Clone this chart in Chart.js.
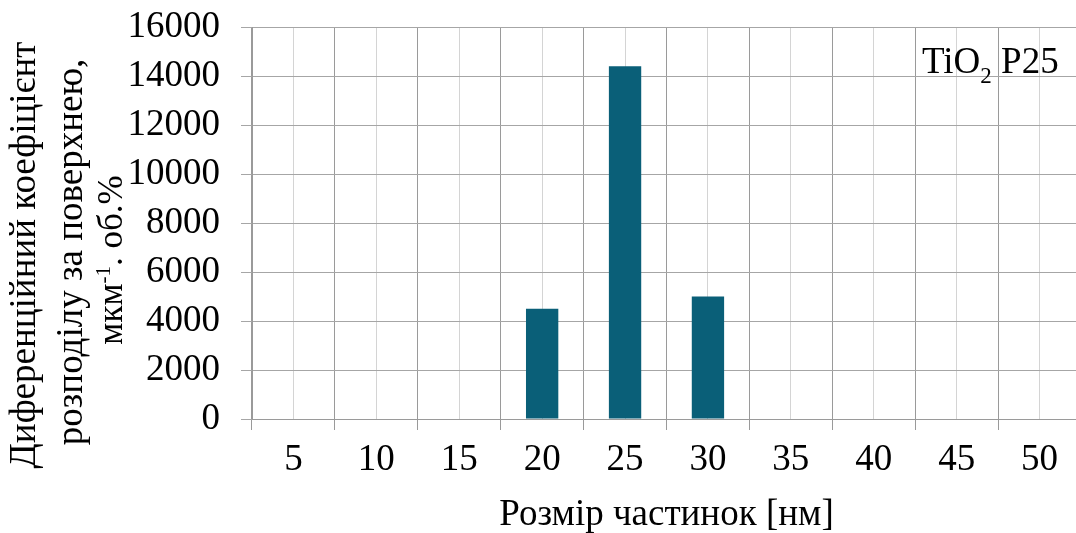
<!DOCTYPE html>
<html>
<head>
<meta charset="utf-8">
<script src="https://cdn.jsdelivr.net/npm/chart.js@4.4.0/dist/chart.umd.min.js"></script>
<style>
  html, body { margin: 0; padding: 0; background: #fff; overflow: hidden; }
  #wrap { position: relative; width: 1100px; height: 533px; }
</style>
</head>
<body>
<div id="wrap"><canvas id="c"></canvas></div>
<script>
// Particle size classes, nm
const sizes = ['5', '10', '15', '20', '25', '30', '35', '40', '45', '50'];
// Differential surface distribution, µm^-1 · vol.%
const values = [0, 0, 0, 4500, 14400, 5000, 0, 0, 0, 0];
// Value axis range
const yMin = 0;
const yMax = 16000;
const yStep = 2000;

const xTitle = 'Розмір частинок [нм]';
const yTitleLines = ['Диференційний коефіцієнт', 'розподілу за поверхнею,'];
const yUnitParts = ['мкм', '-1', '. об.%'];
const sampleParts = ['TiO', '2', ' P25'];

const serif = "'Liberation Serif', 'Times New Roman', serif";
const barColor = '#0a5f78';

// Draws axis titles and the sample label (with sub/superscripts)
const titlesPlugin = {
  id: 'titles',
  afterDraw(chart) {
    const { ctx, chartArea: a } = chart;
    ctx.save();
    ctx.fillStyle = '#000';
    ctx.textBaseline = 'alphabetic';

    // x-axis title
    ctx.font = `37px ${serif}`;
    ctx.textAlign = 'center';
    ctx.fillText(xTitle, (a.left + a.right) / 2, 525);

    // y-axis title, rotated
    ctx.save();
    ctx.rotate(-Math.PI / 2);
    ctx.font = `37px ${serif}`;
    ctx.fillText(yTitleLines[0], -255, 35);
    ctx.fillText(yTitleLines[1], -252, 82);

    // unit line with superscript
    const mainF = `35px ${serif}`;
    const supF = `21px ${serif}`;
    ctx.font = mainF; const w0 = ctx.measureText(yUnitParts[0]).width;
    ctx.font = supF;  const w1 = ctx.measureText(yUnitParts[1]).width;
    ctx.font = mainF; const w2 = ctx.measureText(yUnitParts[2]).width;
    let u = -260 - (w0 + w1 + w2) / 2;
    ctx.textAlign = 'left';
    ctx.font = mainF; ctx.fillText(yUnitParts[0], u, 122); u += w0;
    ctx.font = supF;  ctx.fillText(yUnitParts[1], u, 110); u += w1;
    ctx.font = mainF; ctx.fillText(yUnitParts[2], u, 122);
    ctx.restore();

    // sample label inside the plot
    ctx.textAlign = 'left';
    let x = a.right - 159;
    const base = a.top + 46;
    ctx.font = `37px ${serif}`;
    ctx.fillText(sampleParts[0], x, base); x += ctx.measureText(sampleParts[0]).width;
    ctx.font = `23px ${serif}`;
    ctx.fillText(sampleParts[1], x, base + 10); x += ctx.measureText(sampleParts[1]).width;
    ctx.font = `37px ${serif}`;
    ctx.fillText(sampleParts[2], x, base);
    ctx.restore();
  }
};

new Chart(document.getElementById('c'), {
  type: 'bar',
  data: {
    labels: sizes,
    datasets: [{
      data: values,
      backgroundColor: barColor,
      borderWidth: 0,
      barPercentage: 0.39,
      categoryPercentage: 1.0,
      xAxisID: 'x',
      yAxisID: 'y'
    }]
  },
  options: {
    responsive: true,
    maintainAspectRatio: false,
    animation: false,
    layout: { padding: { top: 27, right: 19, left: 0, bottom: 0 } },
    plugins: { legend: { display: false }, tooltip: { enabled: false } },
    scales: {
      x2: {
        type: 'category',
        labels: sizes,
        position: 'top',
        offset: true,
        grid: { offset: false, color: '#d4d4d4', lineWidth: 1, drawTicks: false },
        border: { display: false },
        ticks: { display: false },
        afterFit(s) { s.height = 0; s.paddingLeft = 0; s.paddingRight = 0; }
      },
      x: {
        type: 'category',
        position: 'bottom',
        offset: true,
        grid: { offset: true, color: '#9a9a9a', lineWidth: 1, tickLength: 11 },
        border: { color: '#9a9a9a' },
        ticks: {
          color: '#000',
          font: { family: serif, size: 37 },
          padding: 8,
          maxRotation: 0,
          autoSkip: false
        },
        afterFit(s) { s.height = 114; s.paddingLeft = 0; s.paddingRight = 0; }
      },
      y: {
        min: yMin,
        max: yMax,
        grid: { color: '#a6a6a6', lineWidth: 1, tickLength: 11 },
        border: { color: '#9a9a9a' },
        ticks: {
          stepSize: yStep,
          color: '#000',
          font: { family: serif, size: 37 },
          padding: 21,
          callback: v => String(v)
        },
        afterFit(s) { s.width = 252; s.paddingTop = 0; s.paddingBottom = 0; }
      }
    }
  },
  plugins: [titlesPlugin]
});
</script>
</body>
</html>
